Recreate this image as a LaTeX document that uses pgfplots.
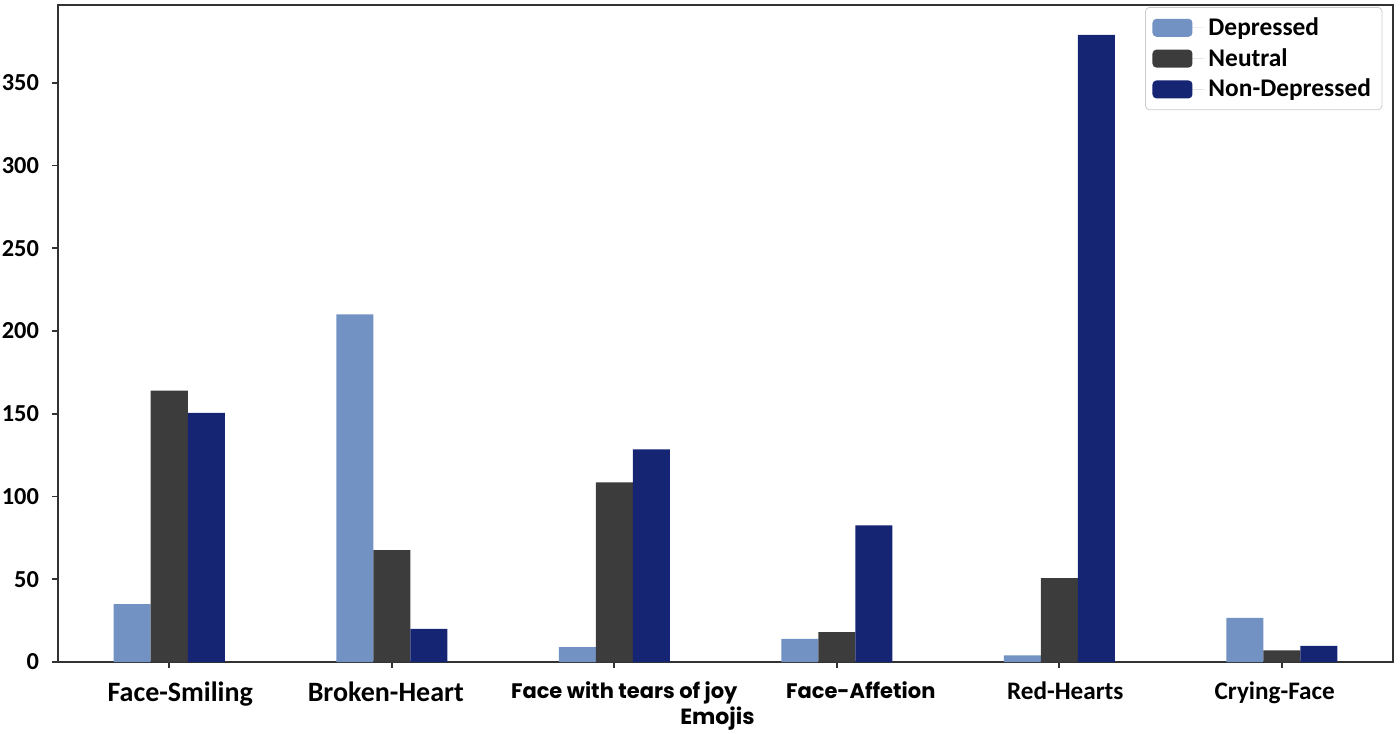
\documentclass[border=0pt]{standalone}
\usepackage{pgfplots}
\pgfplotsset{compat=1.18}
\usepackage{fontspec}
\setmainfont{Carlito}
\newfontfamily\pop{Poppins}
\definecolor{dep}{RGB}{114,146,196}
\definecolor{neu}{RGB}{60,60,60}
\definecolor{nondep}{RGB}{22,36,116}
\definecolor{axc}{RGB}{50,50,50}
\newcommand\sh[2]{\hspace*{#1}#2\hspace*{-#1}}
\begin{document}
\begin{tikzpicture}
\path[use as bounding box] (-29pt,-35.5pt) rectangle (671pt,331pt);
\begin{axis}[
  at={(0,0)}, anchor=south west,
  scale only axis, width=667.5pt, height=328.5pt,
  ybar=0pt, bar width=18.5pt,
  xmin=-0.5, xmax=5.5, ymin=0, ymax=397,
  xtick={0,1,2,3,4,5},
  xticklabels={\sh{5.5pt}{Face-Smiling},\sh{-3pt}{Broken-Heart},{\sh{5pt}{\pop\fontsize{10.5}{12}\selectfont Face with tears of joy}},{\sh{12pt}{\pop\fontsize{10.5}{12}\selectfont Face-Affetion}},{\sh{3pt}{\fontsize{12.6}{14}\selectfont Red-Hearts}},{\sh{-3.5pt}{\fontsize{12.6}{14}\selectfont Crying-Face}}},
  ytick={0,50,100,150,200,250,300,350},
  tick align=outside, major tick length=3pt,
  tick style={axc, line width=0.8pt},
  xtick pos=bottom, ytick pos=left,
  axis line style={axc, line width=1.3pt},
  /pgf/number format/assume math mode=true,
  xticklabel style={font=\fontsize{14}{16}\selectfont\bfseries, yshift=-3.5pt},
  yticklabel style={font=\fontsize{12.2}{14}\selectfont\bfseries, xshift=-3pt},
  xlabel={\pop\bfseries Emojis},
  xlabel style={at={(axis description cs:0.494,0)}, anchor=center, yshift=-28.5pt, font=\fontsize{11}{13}\selectfont},
  legend cell align=left,
  legend style={at={(rel axis cs:0.992,0.997)}, anchor=north east, draw=gray!40, rounded corners=2pt,
    font=\fontsize{12.7}{14}\selectfont\bfseries, row sep=1pt, inner xsep=3.5pt, inner ysep=3pt},
  legend image code/.code={\fill[#1] (0pt,-4.5pt) rectangle (20pt,4.5pt);\path (0pt,0pt) -- (26pt,0pt);},
]
\addplot[fill=dep, draw=none] coordinates {(0,35) (1,210) (2,9) (3,14) (4,4) (5,26.6)};
\addplot[fill=neu, draw=none] coordinates {(0,164) (1,67.6) (2,108.5) (3,18) (4,50.7) (5,7)};
\addplot[fill=nondep, draw=none] coordinates {(0,150.5) (1,20) (2,128.5) (3,82.5) (4,379) (5,9.7)};
\legend{Depressed,Neutral,Non-Depressed}
\end{axis}
\end{tikzpicture}
\end{document}
